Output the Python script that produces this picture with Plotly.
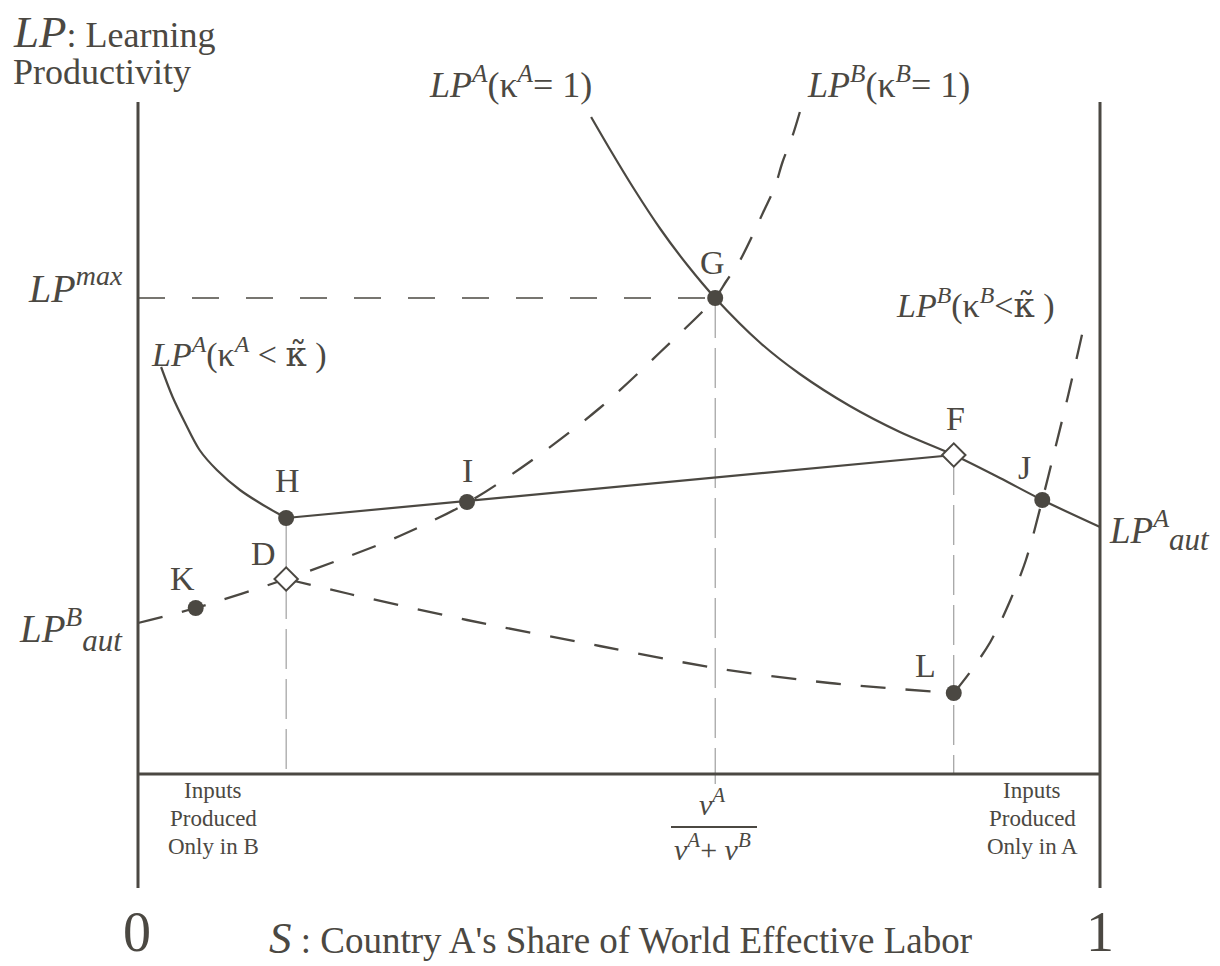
import plotly.graph_objects as go

# ---- data (S share on x, learning productivity on y, arbitrary units) ----
lpA_full_x = [0.471, 0.491, 0.515, 0.543, 0.571, 0.600, 0.647, 0.688, 0.740, 0.792, 0.848, 0.896, 0.940, 1.000]
lpA_full_y = [6.57, 6.24, 5.86, 5.45, 5.09, 4.76, 4.31, 4.00, 3.68, 3.42, 3.19, 2.96, 2.74, 2.47]

lpA_low_x = [0.024, 0.036, 0.049, 0.064, 0.082, 0.106, 0.130, 0.154]
lpA_low_y = [4.07, 3.77, 3.51, 3.24, 3.04, 2.84, 2.69, 2.56]

hf_x = [0.154, 0.848]
hf_y = [2.56, 3.19]

lpB_full_x = [0.000, 0.060, 0.154, 0.220, 0.272, 0.342, 0.407, 0.480, 0.543, 0.600,
              0.611, 0.626, 0.639, 0.650, 0.662, 0.670, 0.680, 0.688]
lpB_full_y = [1.51, 1.66, 1.95, 2.18, 2.38, 2.71, 3.12, 3.66, 4.22, 4.76,
              4.92, 5.14, 5.39, 5.62, 5.87, 6.12, 6.37, 6.62]

lpB_low1_x = [0.154, 0.220, 0.342, 0.480, 0.600, 0.719, 0.848]
lpB_low1_y = [1.95, 1.80, 1.54, 1.28, 1.06, 0.91, 0.81]

lpB_low2_x = [0.848, 0.865, 0.886, 0.906, 0.923, 0.940, 0.953, 0.967, 0.984]
lpB_low2_y = [0.81, 1.02, 1.32, 1.72, 2.14, 2.74, 3.24, 3.79, 4.51]

dot_names = ["G", "H", "I", "J", "K", "L"]
dot_x = [0.600, 0.154, 0.342, 0.940, 0.060, 0.848]
dot_y = [4.76, 2.56, 2.72, 2.74, 1.66, 0.81]

diamond_names = ["F", "D"]
diamond_x = [0.848, 0.154]
diamond_y = [3.19, 1.95]

LP_MAX = 4.76
S_EQUAL = 0.600
S_D = 0.154
S_F = 0.848

# ---- styling / geometry (page pixels; page has an 8px body margin) ----
INK = "#4b4842"
GUIDE = "#8c8c8c"
FONT = "Liberation Serif"
OFF = 8
W, H = 1220 - OFF, 966 - OFF
PL, PT, PW, PH = 90, 92, 1058, 806          # plot area on the page
ML, MT = PL - OFF, PT - OFF
MR, MB = W - ML - PW, H - MT - PH


def X(px):
    return (px - 138) / 962.0


def Y(py):
    return (774 - py) / 100.0


def XP(px):
    return (px - PL) / PW


def YP(py):
    return (PT + PH - py) / PH


fig = go.Figure()


def line(x, y, dash="solid", width=2.2, color=INK, spline=True):
    fig.add_trace(go.Scatter(
        x=x, y=y, mode="lines",
        line=dict(color=color, width=width, dash=dash,
                  shape="spline" if spline else "linear", smoothing=0.9),
        hoverinfo="skip", showlegend=False, cliponaxis=False))


# guides
line([0, S_EQUAL], [LP_MAX, LP_MAX], dash="27px,27px", width=1.3, spline=False)
line([S_EQUAL, S_EQUAL], [LP_MAX, -0.1], dash="40px,10px", width=1, color=GUIDE, spline=False)
line([S_D, S_D], [hf_y[0], diamond_y[1]], width=1, color=GUIDE, spline=False)
line([S_D, S_D], [diamond_y[1], 0], dash="40px,10px", width=1, color=GUIDE, spline=False)
line([S_F, S_F], [diamond_y[0], 0], dash="40px,10px", width=1, color=GUIDE, spline=False)

# curves
line(lpA_full_x, lpA_full_y)
line(lpA_low_x, lpA_low_y)
line(hf_x, hf_y, spline=False)
line(lpB_full_x, lpB_full_y, dash="25px,20px", width=2.3)
line(lpB_low1_x, lpB_low1_y, dash="25px,20px", width=2.3)
line(lpB_low2_x, lpB_low2_y, dash="25px,20px", width=2.3)

# markers
fig.add_trace(go.Scatter(x=dot_x, y=dot_y, mode="markers", text=dot_names,
                         marker=dict(size=16, color=INK, line=dict(width=0)),
                         hoverinfo="text", showlegend=False, cliponaxis=False))
fig.add_trace(go.Scatter(x=diamond_x, y=diamond_y, mode="markers", text=diamond_names,
                         marker=dict(symbol="diamond", size=18, color="white",
                                     line=dict(width=2, color=INK)),
                         hoverinfo="text", showlegend=False, cliponaxis=False))

# frame lines
shapes = [
    dict(type="line", x0=0, x1=0, y0=Y(888), y1=Y(102), line=dict(color=INK, width=3)),
    dict(type="line", x0=1, x1=1, y0=Y(888), y1=Y(102), line=dict(color=INK, width=3)),
    dict(type="line", x0=0, x1=1, y0=0, y1=0, line=dict(color=INK, width=3)),
    # fraction bar
    dict(type="line", x0=X(671), x1=X(757), y0=Y(827), y1=Y(827), line=dict(color=INK, width=2)),
]

ann = []


def text(t, px, py, size, xanchor="center", align="center"):
    ann.append(dict(text=t, x=XP(px), y=YP(py), xref="paper", yref="paper", showarrow=False,
                    xanchor=xanchor, yanchor="middle", borderpad=0, align=align,
                    font=dict(family=FONT, size=size, color=INK)))


KT = "<span style='font-family:DejaVu Serif'>κ\u0303</span>"
AUT = "<sub><span style='font-size:31px'>aut</span></sub>"

text("<span style='font-size:45px'><i>LP</i></span>: Learning", 12, 32, 36, "left", "left")
text("Productivity", 12, 72, 36, "left", "left")
text("<i>LP<sup>A</sup></i>(κ<sup><i>A</i></sup>= 1)", 510, 82, 36)
text("<i>LP<sup>B</sup></i>(κ<sup><i>B</i></sup>= 1)", 888, 82, 36)
text("<i>LP<sup>max</sup></i>", 124, 285, 40, "right")
text("<i>LP<sup>A</sup></i>(κ<sup><i>A</i></sup> < " + KT + " )", 150, 352, 34, "left")
text("<i>LP<sup>B</sup></i>(κ<sup><i>B</i></sup><" + KT + " )", 895, 303, 34, "left")
text("<i>LP<sup>A</sup>" + AUT + "</i>", 1108, 530, 37, "left")
text("<i>LP<sup>B</sup>" + AUT + "</i>", 18, 630, 39, "left")

for name, px, py in [("G", 712, 263), ("H", 287, 480), ("I", 467, 470), ("D", 263, 553),
                     ("K", 182, 578), ("F", 955, 418), ("J", 1024, 467), ("L", 925, 665)]:
    text(name, px, py, 34)

for i, row in enumerate(["Inputs", "Produced", "Only in B"]):
    text(row, 213, 790 + 28 * i, 23)
for i, row in enumerate(["Inputs", "Produced", "Only in A"]):
    text(row, 1032, 790 + 28 * i, 23)

text("<i>v<sup>A</sup></i>", 712, 802, 30)
text("<i>v<sup>A</sup></i>+<i> v<sup>B</sup></i>", 712, 847, 30)

text("0", 137, 932, 56)
text("1", 1100, 932, 56)
text("<i>S</i><span style='font-size:37px'> : Country A's Share of World Effective Labor</span>", 268, 938, 45, "left")

fig.update_layout(
    width=W, height=H,
    margin=dict(l=ML, r=MR, t=MT, b=MB),
    paper_bgcolor="white", plot_bgcolor="white",
    xaxis=dict(range=[X(PL), X(PL + PW)], visible=False, fixedrange=True),
    yaxis=dict(range=[Y(PT + PH), Y(PT)], visible=False, fixedrange=True),
    shapes=shapes, annotations=ann, showlegend=False,
)

fig.write_html("out.html")
